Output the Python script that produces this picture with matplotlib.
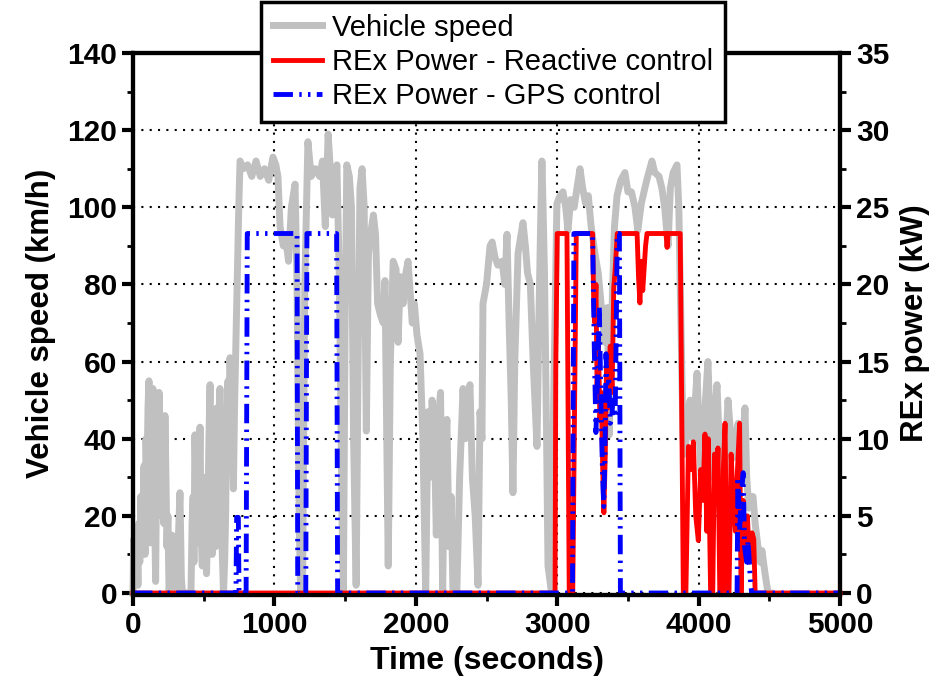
import matplotlib
matplotlib.use("Agg")
import matplotlib.pyplot as plt
from matplotlib.ticker import MultipleLocator

plt.rcParams['font.family'] = ['Liberation Sans', 'DejaVu Sans']

# ---- data ----
speed_t = [0, 5, 10, 15, 20, 28, 35, 40, 48, 55, 63, 71, 78, 85, 92, 99, 106, 113, 119, 125, 133, 141, 150, 160, 168, 176, 184, 190, 195, 203, 210, 218, 226, 233, 240, 247, 255, 265, 276, 288, 300, 315, 332, 342, 350, 380, 410, 418, 425, 431, 438, 444, 450, 457, 464, 474, 482, 490, 500, 510, 520, 530, 537, 545, 552, 560, 567, 575, 584, 593, 599, 605, 610, 615, 622, 630, 640, 648, 655, 663, 672, 679, 686, 693, 700, 710, 718, 725, 733, 740, 748, 757, 780, 810, 840, 870, 900, 930, 960, 990, 1010, 1025, 1040, 1063, 1080, 1100, 1120, 1146, 1160, 1175, 1185, 1200, 1215, 1237, 1260, 1290, 1320, 1340, 1360, 1380, 1395, 1410, 1425, 1442, 1460, 1478, 1488, 1500, 1512, 1530, 1545, 1560, 1578, 1592, 1605, 1620, 1635, 1650, 1665, 1680, 1700, 1715, 1730, 1750, 1770, 1782, 1795, 1805, 1820, 1840, 1860, 1875, 1890, 1910, 1930, 1945, 1960, 1975, 1990, 2008, 2030, 2050, 2070, 2086, 2100, 2115, 2130, 2145, 2160, 2175, 2190, 2200, 2220, 2235, 2250, 2263, 2290, 2310, 2334, 2350, 2370, 2383, 2400, 2420, 2440, 2454, 2468, 2475, 2500, 2525, 2540, 2560, 2580, 2610, 2630, 2645, 2660, 2675, 2687, 2700, 2723, 2740, 2758, 2775, 2790, 2810, 2830, 2857, 2870, 2885, 2892, 2900, 2910, 2925, 2935, 2960, 2975, 2998, 3020, 3041, 3060, 3076, 3095, 3120, 3140, 3161, 3180, 3200, 3220, 3240, 3267, 3290, 3310, 3338, 3355, 3368, 3385, 3405, 3423, 3450, 3479, 3500, 3525, 3550, 3570, 3595, 3620, 3640, 3670, 3690, 3720, 3740, 3760, 3784, 3800, 3820, 3847, 3860, 3875, 3890, 3904, 3920, 3940, 3960, 3989, 4005, 4020, 4040, 4066, 4080, 4095, 4110, 4130, 4150, 4170, 4190, 4208, 4225, 4245, 4260, 4280, 4300, 4315, 4328, 4340, 4355, 4370, 4385, 4400, 4420, 4435, 4448, 4470, 4491, 4500]
speed_v = [0, 14, 3, 12, 6, 16, 2, 18, 8, 25, 12, 22, 33, 10, 40, 29, 48, 55, 20, 13, 45, 53, 30, 3, 38, 20, 52, 44, 20, 40, 35, 18, 46, 30, 12, 20, 0, 5, 15, 2, 0, 8, 26, 4, 0, 0, 0, 18, 25, 8, 41, 30, 13, 38, 20, 43, 15, 7, 25, 30, 5, 20, 40, 54, 22, 10, 38, 30, 12, 48, 35, 20, 45, 53, 30, 12, 0, 8, 20, 45, 55, 40, 61, 50, 45, 27, 48, 60, 75, 86, 100, 112, 110, 111, 108, 112, 108, 110, 107, 113, 111, 108, 95, 90, 92, 86, 100, 106, 80, 20, 0, 5, 80, 117, 108, 110, 108, 112, 95, 119, 110, 98, 105, 111, 80, 20, 0, 70, 111, 108, 100, 40, 2, 60, 105, 110, 100, 42, 88, 93, 98, 93, 75, 72, 70, 81, 40, 7, 60, 86, 84, 65, 82, 75, 83, 86, 78, 70, 75, 67, 62, 40, 0, 47, 30, 50, 44, 15, 45, 52, 0, 30, 45, 12, 25, 0, 0, 30, 53, 40, 50, 54, 30, 20, 2, 47, 40, 75, 80, 90, 91, 87, 85, 86, 80, 93, 70, 50, 26, 60, 88, 92, 96, 90, 83, 80, 60, 38, 70, 100, 112, 100, 83, 40, 7, 0, 50, 101, 103, 104, 100, 94, 102, 100, 105, 110, 105, 101, 103, 95, 88, 83, 75, 65, 74, 41, 70, 95, 103, 107, 109, 104, 104, 100, 94, 101, 105, 108, 112, 109, 108, 105, 100, 90, 105, 109, 111, 100, 70, 40, 36, 45, 50, 40, 57, 40, 29, 45, 60, 45, 30, 45, 54, 35, 12, 35, 50, 42, 35, 40, 44, 30, 40, 48, 30, 22, 25, 25, 18, 12, 8, 11, 5, 0, 0]

reactive_t = [0, 2985, 2990, 3000, 3069, 3085, 3110, 3135, 3250, 3258, 3266, 3274, 3282, 3292, 3302, 3312, 3322, 3330, 3340, 3350, 3362, 3375, 3388, 3400, 3410, 3425, 3565, 3575, 3585, 3595, 3605, 3625, 3635, 3645, 3770, 3777, 3785, 3870, 3892, 3910, 3920, 3928, 3945, 3963, 3980, 3998, 4015, 4030, 4045, 4058, 4068, 4085, 4100, 4112, 4125, 4137, 4150, 4165, 4175, 4187, 4200, 4215, 4230, 4245, 4260, 4275, 4290, 4300, 4315, 4330, 4345, 4360, 4378, 4390, 4400, 5000]
reactive_p = [0, 0, 14.6, 23.3, 23.3, 0, 0, 23.3, 23.3, 19.0, 17.5, 20.0, 13.4, 16.0, 11.2, 13.0, 8.0, 5.2, 9.0, 15.5, 12.0, 16.0, 13.0, 19.8, 21.0, 23.3, 23.3, 20.5, 18.8, 21.5, 19.6, 22.5, 23.3, 23.3, 23.3, 22.4, 23.3, 23.3, 0, 0, 5.2, 9.5, 8.0, 9.8, 5.0, 3.4, 8.0, 6.0, 10.3, 4.0, 10.0, 0, 0, 9.0, 6.0, 9.4, 0, 0, 8.0, 11.0, 0, 0, 9.0, 6.0, 4.0, 8.0, 11.0, 0, 6.0, 3.0, 5.0, 2.0, 3.9, 3.5, 0, 0]

gps_t = [0, 728, 733, 745, 750, 800, 808, 1160, 1165, 1222, 1230, 1440, 1447, 3108, 3118, 3250, 3262, 3274, 3286, 3298, 3310, 3320, 3329, 3338, 3345, 3355, 3365, 3375, 3383, 3395, 3410, 3425, 3440, 3447, 4272, 4278, 4290, 4300, 4315, 4325, 4340, 4350, 4365, 4375, 5000]
gps_p = [0, 0, 4.9, 4.9, 0, 0, 23.3, 23.3, 0, 0, 23.3, 23.3, 0, 0, 23.3, 23.3, 16.0, 10.4, 14.0, 18.5, 12.0, 8.0, 5.6, 9.0, 15.5, 12.5, 14.0, 11.0, 11.2, 12.5, 11.4, 23.3, 23.3, 0, 0, 7.5, 4.0, 6.0, 7.8, 3.0, 2.0, 3.4, 1.0, 0, 0]

x_ticks = [0, 1000, 2000, 3000, 4000, 5000]
speed_ticks = [0, 20, 40, 60, 80, 100, 120, 140]
power_ticks = [0, 5, 10, 15, 20, 25, 30, 35]

# ---- figure ----
fig = plt.figure(figsize=(9.52, 6.83), dpi=100)
ax = fig.add_axes([133/952, 1-593/683, (840-133)/952, (593-53)/683])
ax2 = ax.twinx()

l1, = ax.plot(speed_t, speed_v, color='#c0c0c0', lw=5, solid_joinstyle='round',
              clip_on=False, label='Vehicle speed')
l2, = ax2.plot(reactive_t, reactive_p, color='#ff0000', lw=3.5, clip_on=False,
               label='REx Power - Reactive control')
l3, = ax2.plot(gps_t, gps_p, color='#0000ff', lw=3.5, dashes=(4, 1.3, 0.5, 1.3, 0.5, 1.3),
               clip_on=False, label='REx Power - GPS control')

ax.set_xlim(0, 5000)
ax.set_ylim(0, 140)
ax2.set_ylim(0, 35)
ax.set_xticks(x_ticks)
ax.set_yticks(speed_ticks)
ax2.set_yticks(power_ticks)
ax.xaxis.set_minor_locator(MultipleLocator(500))
ax.yaxis.set_minor_locator(MultipleLocator(10))
ax2.yaxis.set_minor_locator(MultipleLocator(2.5))

ax.grid(True, which='major', color='black', linestyle=(0, (1, 3)), lw=1.5)

for a in (ax, ax2):
    for s in a.spines.values():
        s.set_linewidth(3)
    a.spines['bottom'].set_position(('outward', 1.5))
    a.tick_params(which='major', direction='out', length=8, width=3, labelsize=21.5)
    a.tick_params(which='minor', direction='out', length=4, width=2)
    for lab in a.get_xticklabels() + a.get_yticklabels():
        lab.set_fontweight('bold')

ax.set_xlabel('Time (seconds)', fontsize=23, fontweight='bold', labelpad=5)
ax.set_ylabel('Vehicle speed (km/h)', fontsize=22.5, fontweight='bold', labelpad=8)
ax2.set_ylabel('REx power (kW)', fontsize=22.5, fontweight='bold', labelpad=8)

leg = fig.legend(handles=[l1, l2, l3], loc='upper center', bbox_to_anchor=(493/952, 1-2/683),
                 fontsize=21, frameon=True, fancybox=False, framealpha=1, edgecolor='black',
                 handlelength=1.71, handletextpad=0.34, labelspacing=0.22, borderpad=0.4,
                 borderaxespad=0)
leg.get_frame().set_linewidth(2.5)

fig.savefig('out.png', dpi=100)
